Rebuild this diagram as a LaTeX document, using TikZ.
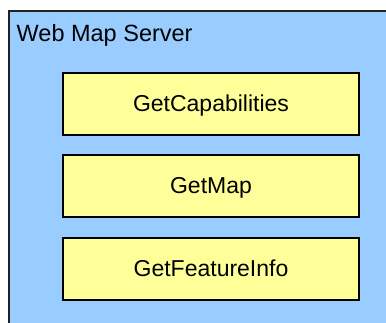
\documentclass[tikz,border=0pt]{standalone}
\usepackage{fontspec}
\setmainfont{Liberation Sans}
\definecolor{serverblue}{HTML}{99CCFF}
\definecolor{opyellow}{HTML}{FFFF99}
\definecolor{edgegray}{HTML}{222222}
\begin{document}
\begin{tikzpicture}[x=1pt,y=-1pt,
  opbox/.style={draw=black,line width=2pt,fill=opyellow,minimum width=296pt,
    minimum height=62pt,inner sep=0pt,text height=16pt,text depth=0pt,
    font=\fontsize{23}{27}\selectfont},
  lbl/.style={font=\fontsize{23.5}{27}\selectfont,inner sep=0pt,anchor=base west}]
\useasboundingbox (0,0) rectangle (386,323);
\fill[white] (0,0) rectangle (386,323);
% server frame, running off the right and bottom edges
\fill[serverblue] (9,11) rectangle (386,323);
\draw[edgegray,line width=1.6pt] (9,323) -- (9,11) -- (386,11);
\node[lbl] (title) at (16.5,42) {Web Map Server};
% the three operations
\node[opbox] (caps) at (211,104) {GetCapabilities};
\node[opbox] (map) at (211,186) {GetMap};
\node[opbox] (info) at (211,269) {GetFeatureInfo};
\end{tikzpicture}
\end{document}
